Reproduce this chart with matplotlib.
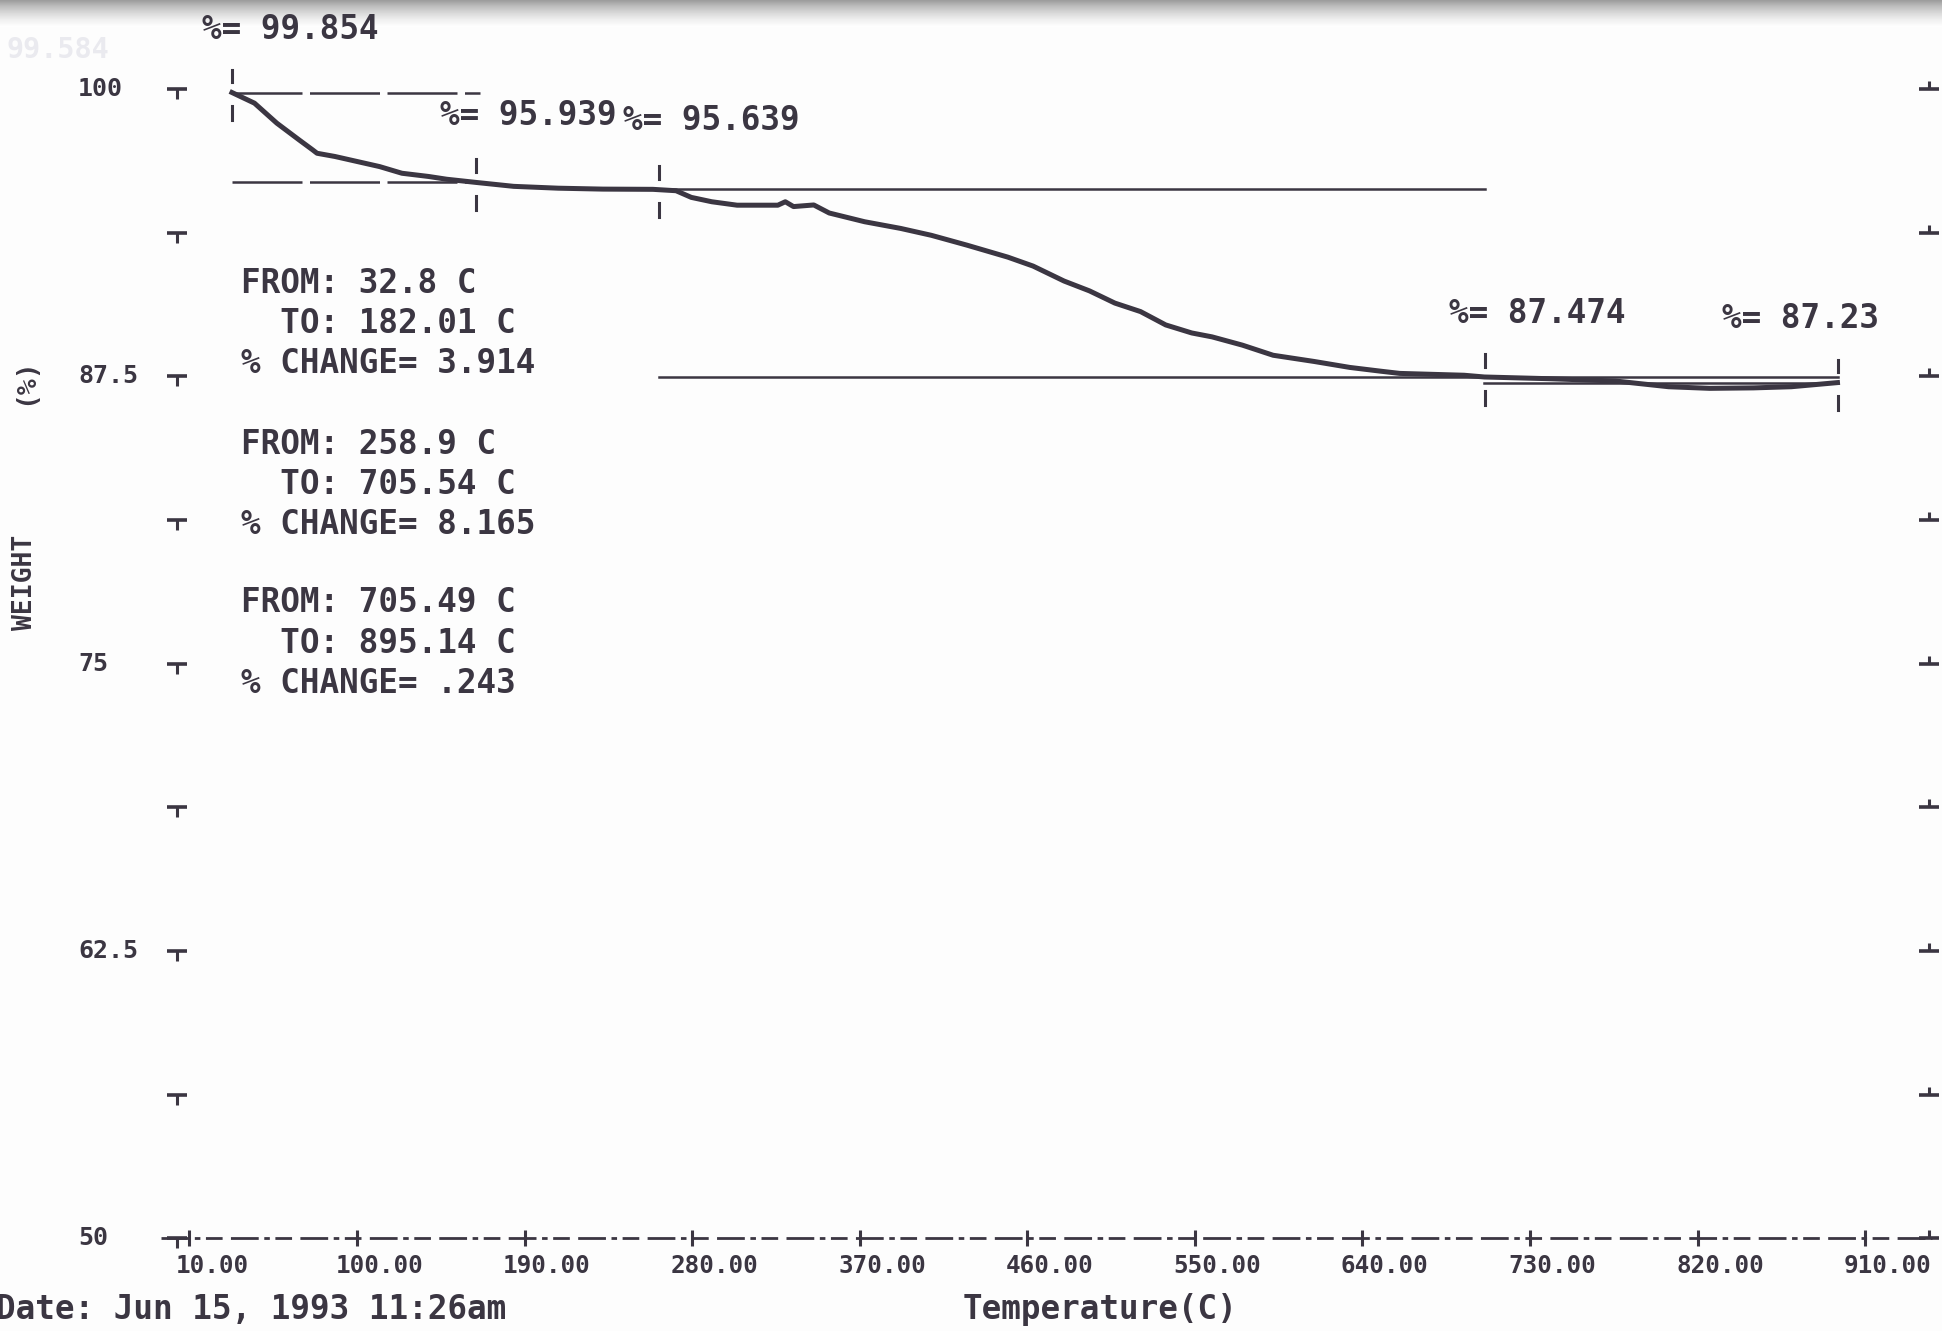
import numpy as np
import matplotlib.pyplot as plt

plt.rcParams['font.family'] = ['DejaVu Sans Mono']
plt.rcParams['font.weight'] = 'bold'

ink = "#3b3642"

# weight loss trace (temperature C, weight %)
temps = [32.8, 44.9, 56.9, 68.9, 76.1, 78.5, 88.1, 100.1, 112.1, 124.1, 138.4, 148.1,
         164.0, 184.1, 208.0, 232.0, 258.9, 271.3, 279.5, 290.5, 304.1, 326.0, 330.0,
         334.4, 345.3, 353.6, 372.6, 391.9, 408.4, 427.6, 449.5, 463.1, 479.7, 493.4,
         507.0, 520.8, 534.3, 548.3, 559.2, 575.5, 592.0, 614.0, 633.2, 649.4, 660.0,
         694.6, 705.5, 740.0, 775.8, 804.4, 826.4, 850.0, 870.3, 895.1]
weights = [99.854, 99.39, 98.52, 97.79, 97.36, 97.21, 97.07, 96.85, 96.63, 96.34, 96.20, 96.08,
           95.94, 95.77, 95.69, 95.65, 95.64, 95.58, 95.29, 95.10, 94.95, 94.95, 95.10,
           94.89, 94.96, 94.61, 94.23, 93.94, 93.64, 93.21, 92.69, 92.30, 91.65, 91.22,
           90.69, 90.32, 89.74, 89.39, 89.22, 88.86, 88.42, 88.15, 87.89, 87.73, 87.63,
           87.55, 87.474, 87.40, 87.30, 87.05, 86.98, 87.00, 87.05, 87.23]

# step analysis
step_from = [32.8, 262.0, 705.49]
step_to = [164.0, 705.54, 895.14]
step_from_txt = ["32.8", "258.9", "705.49"]
step_to_txt = ["182.01", "705.54", "895.14"]
step_change = ["3.914", "8.165", ".243"]
step_w_start = [99.854, 95.639, 87.474]
step_w_end = [95.939, 87.474, 87.23]

x_ticks = [10, 100, 190, 280, 370, 460, 550, 640, 730, 820, 910]
y_major = [100, 87.5, 75, 62.5, 50]
y_ticks = [100, 93.75, 87.5, 81.25, 75, 68.75, 62.5, 56.25, 50]

fig = plt.figure(figsize=(19.42, 13.31), dpi=100)
fig.patch.set_facecolor("#fdfdfd")

# grey shadow at the top edge of the scan (behind everything)
shade = fig.add_axes([0, 1 - 22 / 1075, 1, 22 / 1075], zorder=0)
grad = np.linspace(0.5, 0.0, 60).reshape(-1, 1)
shade.imshow(grad, aspect="auto", cmap="Greys", vmin=0, vmax=1,
             extent=[0, 1, 0, 1], origin="upper")
shade.axis("off")

ax = fig.add_axes([153 / 1568, 75 / 1075, 1353 / 1568, 928 / 1075], zorder=1)
ax.set_xlim(10, 910)
ax.set_ylim(50, 100)
ax.axis("off")

# the trace
ax.plot(temps, weights, color=ink, lw=3.6, clip_on=False, solid_joinstyle="round")

# horizontal step lines
for i in range(3):
    x0 = step_from[i]
    x1 = step_to[i]
    if i == 0:
        x1 = x1 + 2
    ls = (0, (28, 3)) if i == 0 else "-"
    ax.plot([x0, x1], [step_w_start[i], step_w_start[i]], color=ink, lw=1.8, ls=ls, clip_on=False)
    ax.plot([x0, x1], [step_w_end[i], step_w_end[i]], color=ink, lw=1.8, ls=ls, clip_on=False)

# little markers above / below each step limit
marks_t = [step_from[0], step_to[0], step_from[1], step_to[1], step_to[2]]
marks_w = [step_w_start[0], step_w_end[0], step_w_start[1], step_w_start[2], step_w_end[2]]
for t, w in zip(marks_t, marks_w):
    ax.plot([t, t], [w + 0.45, w + 1.0], color=ink, lw=2.2, clip_on=False)
    ax.plot([t, t], [w - 0.6, w - 1.2], color=ink, lw=2.2, clip_on=False)

# value labels
fs = 23.5
ax.text(16.7, 102.6, "%= 99.854", fontsize=fs, color=ink, va="center", ha="left")
ax.text(-88.5, 101.7, "99.584", fontsize=fs - 3, color="#eaeaef", va="center", ha="left")
ax.text(144.4, 98.87, "%= 95.939", fontsize=fs, color=ink, va="center", ha="left")
ax.text(242.9, 98.65, "%= 95.639", fontsize=fs, color=ink, va="center", ha="left")
ax.text(686.7, 90.25, "%= 87.474", fontsize=fs, color=ink, va="center", ha="left")
ax.text(833.0, 90.03, "%= 87.23", fontsize=fs, color=ink, va="center", ha="left")

block_top = [91.54, 84.54, 77.64]
for i in range(3):
    y = block_top[i]
    ax.text(37.9, y, "FROM: " + step_from_txt[i] + " C", fontsize=fs, color=ink, va="center")
    ax.text(37.9, y - 1.75, "  TO: " + step_to_txt[i] + " C", fontsize=fs, color=ink, va="center")
    ax.text(37.9, y - 3.5, "% CHANGE= " + step_change[i], fontsize=fs, color=ink, va="center")

# left ticks (T shape), right ticks (inverted T)
for v in y_ticks:
    ax.plot([3.35], [v], marker="_", ms=14, mew=2.6, color=ink, clip_on=False)
    ax.plot([3.35], [v], marker=3, ms=7, mew=2.2, color=ink, clip_on=False)
    ax.plot([944.1], [v], marker="_", ms=14, mew=2.6, color=ink, clip_on=False)
    ax.plot([944.1], [v], marker=2, ms=6, mew=2.2, color=ink, clip_on=False)
for v in y_major:
    lab = "%g" % v
    ax.text(-49.9, v, lab, fontsize=18, color=ink, va="center", ha="left")

# bottom axis
ax.plot([-5.3, 946], [50, 50], color=ink, lw=2.0, ls=(0, (10, 2, 2, 2, 6, 3)), clip_on=False)
for t in x_ticks:
    ax.plot([t], [50], marker="|", ms=12, mew=2.2, color=ink, clip_on=False)
    ax.text(t + 12, 48.8, "%.2f" % t, fontsize=17.5, color=ink, va="center", ha="center")

ax.text(-93.8, 46.9, "Date: Jun 15, 1993 11:26am", fontsize=fs, color=ink, va="center", ha="left")
ax.text(499, 46.9, "Temperature(C)", fontsize=fs, color=ink, va="center", ha="center")
ax.text(-78.5, 78.55, "WEIGHT", fontsize=19, color=ink, va="center", ha="center", rotation=90)
ax.text(-78.5, 87.3, "(%)", fontsize=19, color=ink, va="center", ha="center", rotation=90)

fig.savefig("out.png", dpi=100, facecolor=fig.get_facecolor())
